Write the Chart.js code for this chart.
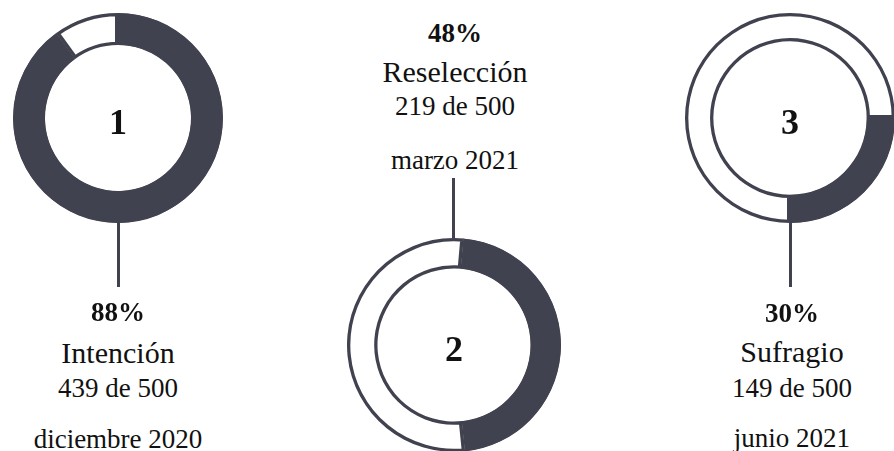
<!DOCTYPE html>
<html>
<head>
<meta charset="utf-8">
<script src="https://cdn.jsdelivr.net/npm/chart.js@4/dist/chart.umd.min.js"></script>
<style>
  body { margin: 0; background: #fff; }
  #wrap { position: relative; width: 894px; height: 451px; overflow: hidden; font-family: "Times New Roman", "Liberation Serif", "DejaVu Serif", serif; color: #111; }
  .ring { position: absolute; }
  .txt { position: absolute; transform: translate(-50%, -50%); white-space: nowrap; line-height: 1; }
  .stem { position: absolute; width: 3px; background: #41424f; }
</style>
</head>
<body>
<div id="wrap"></div>
<script>
// data
const steps = ['1', '2', '3'];
const names = ['Intención', 'Reselección', 'Sufragio'];
const percents = ['88%', '48%', '30%'];
const counts = ['439 de 500', '219 de 500', '149 de 500'];
const dates = ['diciembre 2020', 'marzo 2021', 'junio 2021'];
const filled = [90, 47, 25];    // share of ring drawn dark
const startAngle = [0, 5, 90];  // where the dark arc starts (deg)

const dark = '#41424f';

// layout
const rings = [
  { cx: 118, cy: 118, r: 105, cut: '69.5%' },
  { cx: 454, cy: 345, r: 107, cut: '71.5%' },
  { cx: 790, cy: 118, r: 105, cut: '73%' }
];
const stems = [
  { x: 118, y1: 220, y2: 287 },
  { x: 453, y1: 178, y2: 242 },
  { x: 790, y1: 220, y2: 287 }
];
const textPos = [
  { x: 118, y: [312, 353, 388, 439] },
  { x: 455, y: [33, 72, 106, 160] },
  { x: 792, y: [313, 352, 388, 438] }
];

const wrap = document.getElementById('wrap');

function addText(str, x, y, css) {
  const d = document.createElement('div');
  d.className = 'txt';
  d.textContent = str;
  d.style.left = x + 'px';
  d.style.top = y + 'px';
  Object.assign(d.style, css);
  wrap.appendChild(d);
}

stems.forEach(s => {
  const d = document.createElement('div');
  d.className = 'stem';
  d.style.left = (s.x - 1.5) + 'px';
  d.style.top = s.y1 + 'px';
  d.style.height = (s.y2 - s.y1) + 'px';
  wrap.appendChild(d);
});

rings.forEach((g, i) => {
  const box = document.createElement('div');
  box.className = 'ring';
  box.style.left = (g.cx - g.r) + 'px';
  box.style.top = (g.cy - g.r) + 'px';
  box.style.width = (2 * g.r) + 'px';
  box.style.height = (2 * g.r) + 'px';
  const cv = document.createElement('canvas');
  box.appendChild(cv);
  wrap.appendChild(box);

  new Chart(cv, {
    type: 'doughnut',
    data: {
      labels: [names[i], ''],
      datasets: [{
        data: [filled[i], 100 - filled[i]],
        backgroundColor: [dark, '#ffffff'],
        borderColor: dark,
        borderWidth: 3,
        borderAlign: 'inner'
      }]
    },
    options: {
      responsive: true,
      maintainAspectRatio: false,
      animation: false,
      cutout: g.cut,
      rotation: startAngle[i],
      layout: { padding: 0 },
      plugins: { legend: { display: false }, tooltip: { enabled: false } }
    }
  });

  addText(steps[i], g.cx, g.cy + 4, { fontSize: '36px', fontWeight: 'bold' });
});

textPos.forEach((t, i) => {
  addText(percents[i], t.x, t.y[0], { fontSize: '27px', fontWeight: 'bold' });
  addText(names[i], t.x, t.y[1], { fontSize: '30px' });
  addText(counts[i], t.x, t.y[2], { fontSize: '27px' });
  addText(dates[i], t.x, t.y[3], { fontSize: '27px' });
});
</script>
</body>
</html>
